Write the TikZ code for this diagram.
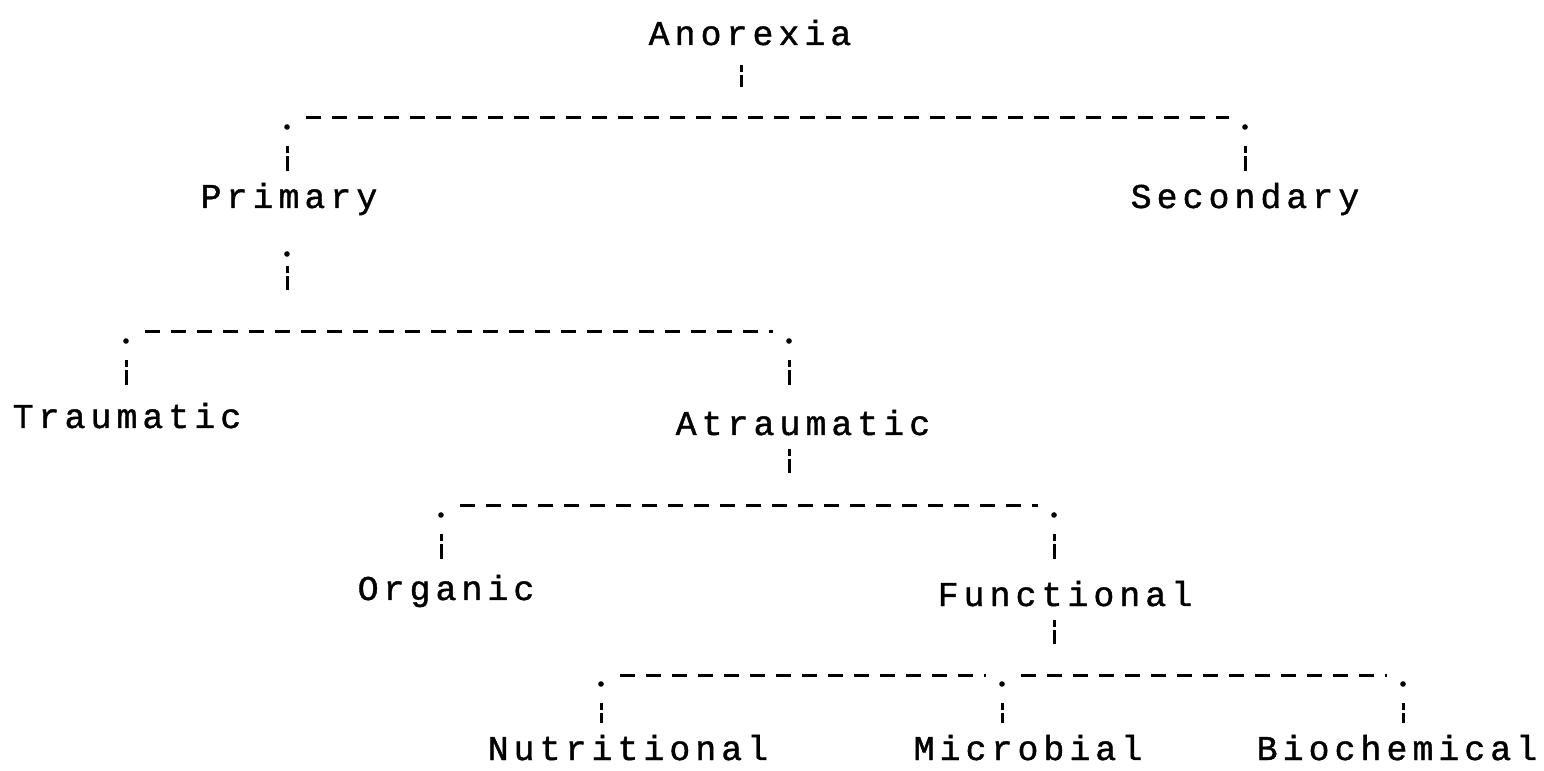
\documentclass[tikz,border=0pt]{standalone}
\usepackage{fontspec}
\newfontfamily\typefont[LetterSpace=14.6, FakeBold=1.2]{Liberation Mono}
\usetikzlibrary{calc}

\begin{document}
\begin{tikzpicture}[x=0.1mm, y=-0.1mm,
    lbl/.style={inner sep=0pt, outer ysep=1.4mm, anchor=base west,
                text height=6.6pt, text depth=0pt,
                font=\typefont\fontsize{9.9pt}{12pt}\selectfont},
    bar/.style={line width=0.3mm, dash pattern=on 1.5mm off 1.1mm},
    stub/.style={line width=0.3mm, dash pattern=on 0.7mm off 0.3mm on 1.5mm off 9mm}
  ]
  \fill[white] (0,0) rectangle (1544,771);
  \useasboundingbox (0,0) rectangle (1544,771);

  % labels
  \node[lbl] (anor) at (648,45)   {Anorexia};
  \node[lbl] (prim) at (200,208)  {Primary};
  \node[lbl] (sec)  at (1130,208) {Secondary};
  \node[lbl] (trau) at (12,428)   {Traumatic};
  \node[lbl] (atra) at (675,435)  {Atraumatic};
  \node[lbl] (org)  at (357,600)  {Organic};
  \node[lbl] (func) at (937,606)  {Functional};
  \node[lbl] (nutr) at (487,760)  {Nutritional};
  \node[lbl] (micr) at (913,760)  {Microbial};
  \node[lbl] (bioc) at (1256,760) {Biochemical};

  % junction points
  \coordinate (top)  at (741,65);
  \coordinate (b1l)  at (287,127);
  \coordinate (b1r)  at (1245,127);
  \coordinate (pdot) at (287,254);
  \coordinate (b2l)  at (126,341);
  \coordinate (b2r)  at (789,341);
  \coordinate (b3l)  at (441,515);
  \coordinate (b3r)  at (1054,515);
  \coordinate (b4l)  at (601,684);
  \coordinate (b4m)  at (1002,684);
  \coordinate (b4r)  at (1403,684);

  \foreach \c in {b1l,b1r,pdot,b2l,b2r,b3l,b3r,b4l,b4m,b4r}
    \fill (\c) circle (0.28mm);

  % horizontal bars
  \draw[bar] ($(b1l)+(19,-9)$) -- ($(b1r)+(-16,-9)$);
  \draw[bar] ($(b2l)+(19,-9)$) -- ($(b2r)+(-16,-9)$);
  \draw[bar] ($(b3l)+(19,-9)$) -- ($(b3r)+(-16,-9)$);
  \draw[bar] ($(b4l)+(19,-9)$) -- ($(b4m)+(-16,-9)$);
  \draw[bar] ($(b4m)+(19,-9)$) -- ($(b4r)+(-16,-9)$);

  % stubs
  \draw[stub] (top) -- ++(0,22);
  \draw[stub] ($(b1l)+(0,19)$) -- (b1l |- prim.north);
  \draw[stub] ($(b1r)+(0,19)$) -- (b1r |- sec.north);
  \draw[stub] ($(pdot)+(0,12)$) -- ++(0,24);
  \draw[stub] ($(b2l)+(0,19)$) -- (b2l |- trau.north);
  \draw[stub] ($(b2r)+(0,19)$) -- (b2r |- atra.north);
  \draw[stub] (atra.south -| b2r) -- ++(0,24);
  \draw[stub] ($(b3l)+(0,19)$) -- (b3l |- org.north);
  \draw[stub] ($(b3r)+(0,19)$) -- (b3r |- func.north);
  \draw[stub] (func.south -| b3r) -- ++(0,24);
  \draw[stub] ($(b4l)+(0,19)$) -- (b4l |- nutr.north);
  \draw[stub] ($(b4m)+(0,19)$) -- (b4m |- micr.north);
  \draw[stub] ($(b4r)+(0,19)$) -- (b4r |- bioc.north);
\end{tikzpicture}
\end{document}
